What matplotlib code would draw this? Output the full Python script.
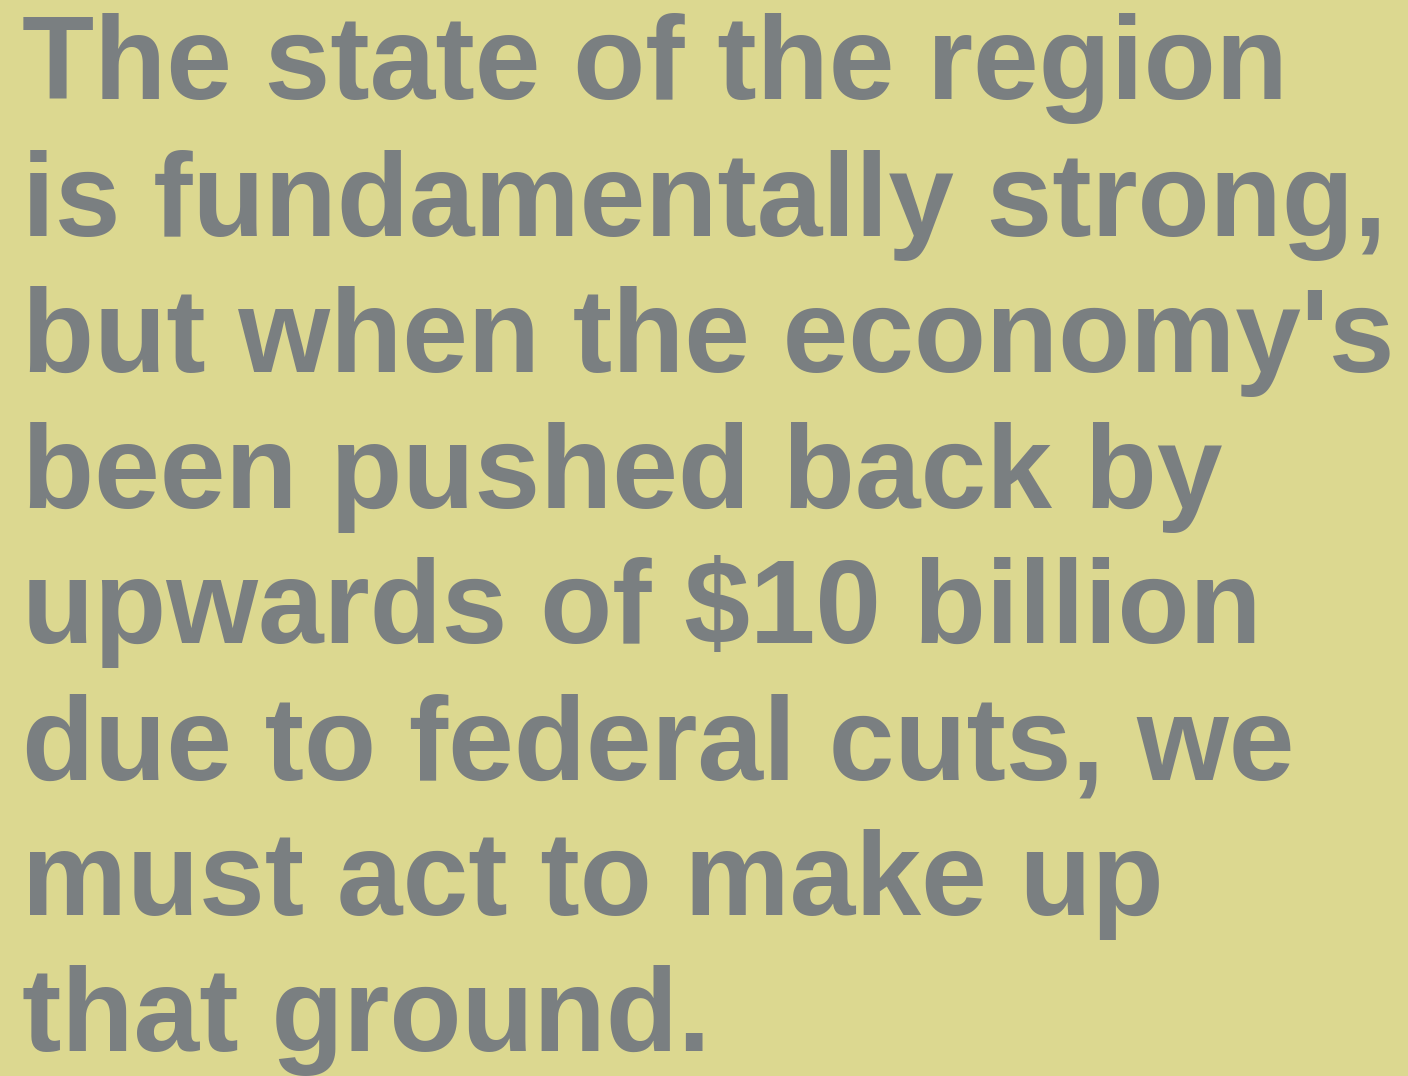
import matplotlib
matplotlib.use("Agg")
import matplotlib.pyplot as plt

lines = [
    "The state of the region",
    "is fundamentally strong,",
    "but when the economy's",
    "been pushed back by",
    "upwards of $10 billion",
    "due to federal cuts, we",
    "must act to make up",
    "that ground.",
]
baselines_px = [99, 236, 372, 508, 643, 779, 915, 1051]

W, H = 1408, 1076
fig = plt.figure(figsize=(W / 100, H / 100), dpi=100)
fig.patch.set_facecolor("#dcd890")

for txt, yb in zip(lines, baselines_px):
    fig.text(22 / W, 1 - yb / H, txt, ha="left", va="baseline",
             fontsize=85, fontweight="bold", family="Liberation Sans",
             color="#7a7f81")

fig.savefig("out.png", dpi=100, facecolor=fig.get_facecolor())
